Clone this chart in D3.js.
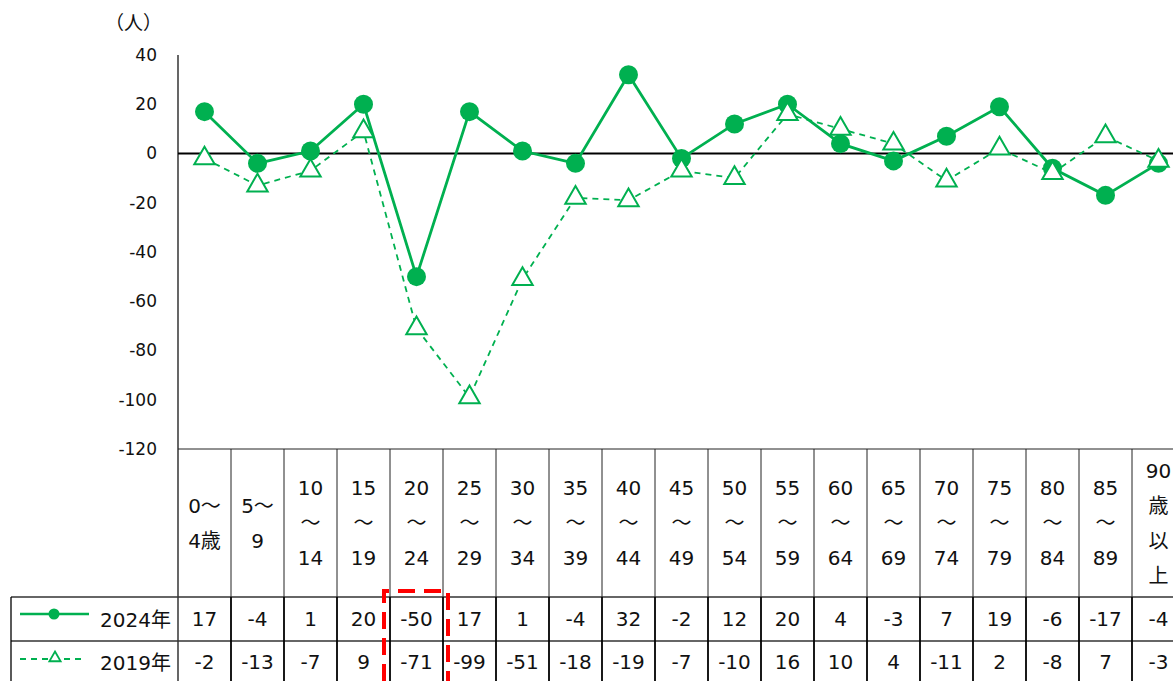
<!DOCTYPE html>
<html>
<head>
<meta charset="utf-8">
<script src="https://cdn.jsdelivr.net/npm/d3@7"></script>
<style>
  html, body { margin: 0; padding: 0; background: #fff; overflow: hidden; }
  svg { display: block; font-family: Verdana, "DejaVu Sans", "Noto Sans CJK JP", sans-serif; }
</style>
</head>
<body>
<svg id="chart"></svg>
<script>
const categories = ['0～4歳', '5～9', '10～14', '15～19', '20～24', '25～29', '30～34', '35～39', '40～44',
  '45～49', '50～54', '55～59', '60～64', '65～69', '70～74', '75～79', '80～84', '85～89', '90歳以上'];
const headerLines = [['0～', '4歳'], ['5～', '9'], ['10', '～', '14'], ['15', '～', '19'], ['20', '～', '24'],
  ['25', '～', '29'], ['30', '～', '34'], ['35', '～', '39'], ['40', '～', '44'], ['45', '～', '49'],
  ['50', '～', '54'], ['55', '～', '59'], ['60', '～', '64'], ['65', '～', '69'], ['70', '～', '74'],
  ['75', '～', '79'], ['80', '～', '84'], ['85', '～', '89'], ['90', '歳', '以', '上']];
const values2024 = [17, -4, 1, 20, -50, 17, 1, -4, 32, -2, 12, 20, 4, -3, 7, 19, -6, -17, -4];
const values2019 = [-2, -13, -7, 9, -71, -99, -51, -18, -19, -7, -10, 16, 10, 4, -11, 2, -8, 7, -3];
const yTicks = [40, 20, 0, -20, -40, -60, -80, -100, -120];

const W = 1173, H = 681;
const green = '#00b050';
const svg = d3.select('#chart').attr('width', W).attr('height', H);

const left = 178, colW = 53;
const x = d3.scaleBand().domain(categories).range([left, left + colW * categories.length]);
const y = d3.scaleLinear().domain([-120, 40]).range([449, 55]);

const headTop = 449, row1 = 597, row2 = 641, tableLeft = 11;
const fsTable = 20;

// y axis labels
svg.append('g').selectAll('text')
  .data(yTicks)
  .join('text')
    .attr('x', 157)
    .attr('y', d => y(d))
    .attr('dy', '0.35em')
    .attr('text-anchor', 'end')
    .attr('font-size', 17)
    .attr('fill', '#111')
    .text(d => d);

svg.append('text')
  .attr('x', 162).attr('y', 23).attr('dy', '0.35em')
  .attr('text-anchor', 'end').attr('font-size', 19).attr('fill', '#111')
  .text('（人）');

// axis + frame lines
svg.append('line')
  .attr('x1', left).attr('x2', left).attr('y1', y(40)).attr('y2', H)
  .attr('stroke', '#000').attr('stroke-width', 1.2);
svg.append('line')
  .attr('x1', left).attr('x2', W).attr('y1', y(-120)).attr('y2', y(-120))
  .attr('stroke', '#222').attr('stroke-width', 1);
[row1, row2].forEach(yy => {
  svg.append('line')
    .attr('x1', tableLeft).attr('x2', W).attr('y1', yy).attr('y2', yy)
    .attr('stroke', '#333').attr('stroke-width', 1.3);
});
svg.append('line')
  .attr('x1', tableLeft).attr('x2', tableLeft).attr('y1', row1).attr('y2', H)
  .attr('stroke', '#000').attr('stroke-width', 1.3);

// column separators
const bounds = categories.map(c => x(c) + x.bandwidth());
svg.append('g').selectAll('line.h')
  .data(bounds)
  .join('line')
    .attr('x1', d => d).attr('x2', d => d)
    .attr('y1', headTop).attr('y2', row1)
    .attr('stroke', '#222').attr('stroke-width', 1);
svg.append('g').selectAll('line.r')
  .data(bounds)
  .join('line')
    .attr('x1', d => d).attr('x2', d => d)
    .attr('y1', row1).attr('y2', H)
    .attr('stroke', '#000').attr('stroke-width', 1.8);

// header labels
const lineH = 35, headMid = (headTop + row1) / 2;
const hg = svg.append('g').selectAll('g')
  .data(categories)
  .join('g');
hg.each(function(c, i) {
  const lines = headerLines[i];
  const y0 = headMid - (lines.length - 1) * lineH / 2;
  d3.select(this).selectAll('text')
    .data(lines)
    .join('text')
      .attr('x', x(c) + x.bandwidth() / 2)
      .attr('y', (d, j) => y0 + j * lineH)
      .attr('dy', '0.35em')
      .attr('text-anchor', 'middle')
      .attr('font-size', fsTable)
      .attr('fill', '#111')
      .text(d => d);
});

// table values
[[values2024, (row1 + row2) / 2], [values2019, (row2 + H) / 2 + 1]].forEach(([vals, cy]) => {
  svg.append('g').selectAll('text')
    .data(vals)
    .join('text')
      .attr('x', (d, i) => x(categories[i]) + x.bandwidth() / 2)
      .attr('y', cy)
      .attr('dy', '0.35em')
      .attr('text-anchor', 'middle')
      .attr('font-size', fsTable)
      .attr('fill', '#111')
      .text(d => d);
});

// legend keys in table
svg.append('line').attr('x1', 20).attr('x2', 89).attr('y1', 614).attr('y2', 614)
  .attr('stroke', green).attr('stroke-width', 2.5);
svg.append('circle').attr('cx', 54).attr('cy', 614).attr('r', 5.5).attr('fill', green);
svg.append('line').attr('x1', 20).attr('x2', 84).attr('y1', 659).attr('y2', 659)
  .attr('stroke', green).attr('stroke-width', 1.8).attr('stroke-dasharray', '6,5');
svg.append('path')
  .attr('transform', 'translate(55,658)')
  .attr('d', d3.symbol(d3.symbolTriangle, 55)())
  .attr('fill', '#fff').attr('stroke', green).attr('stroke-width', 1.8);
svg.append('text').attr('x', 171).attr('y', 620).attr('dy', '0.35em')
  .attr('text-anchor', 'end').attr('font-size', fsTable).attr('fill', '#111').text('2024年');
svg.append('text').attr('x', 171).attr('y', 663).attr('dy', '0.35em')
  .attr('text-anchor', 'end').attr('font-size', fsTable).attr('fill', '#111').text('2019年');

// zero line
svg.append('line')
  .attr('x1', left).attr('x2', W).attr('y1', y(0)).attr('y2', y(0))
  .attr('stroke', '#000').attr('stroke-width', 2);

const cx = i => x(categories[i]) + x.bandwidth() / 2;
const line = d3.line().x((d, i) => cx(i)).y(d => y(d));

// 2024 series
svg.append('path')
  .attr('d', line(values2024))
  .attr('fill', 'none').attr('stroke', green).attr('stroke-width', 2.8);
svg.append('g').selectAll('circle')
  .data(values2024)
  .join('circle')
    .attr('cx', (d, i) => cx(i))
    .attr('cy', d => y(d))
    .attr('r', 9.5)
    .attr('fill', green);

// 2019 series
svg.append('path')
  .attr('d', line(values2019))
  .attr('fill', 'none').attr('stroke', green).attr('stroke-width', 1.8)
  .attr('stroke-dasharray', '6,5');
svg.append('g').selectAll('path')
  .data(values2019)
  .join('path')
    .attr('transform', (d, i) => `translate(${cx(i)},${y(d)})`)
    .attr('d', d3.symbol(d3.symbolTriangle, 180)())
    .attr('fill', '#fff').attr('stroke', green).attr('stroke-width', 2);

// red dashed highlight around 20-24 column
const hx0 = x('20～24') - 6, hx1 = x('20～24') + x.bandwidth() + 5;
svg.append('path')
  .attr('d', `M${hx0},${H} V591 H${hx1} V${H}`)
  .attr('fill', 'none').attr('stroke', '#ff0000').attr('stroke-width', 4)
  .attr('stroke-dasharray', '17,9');
</script>
</body>
</html>
